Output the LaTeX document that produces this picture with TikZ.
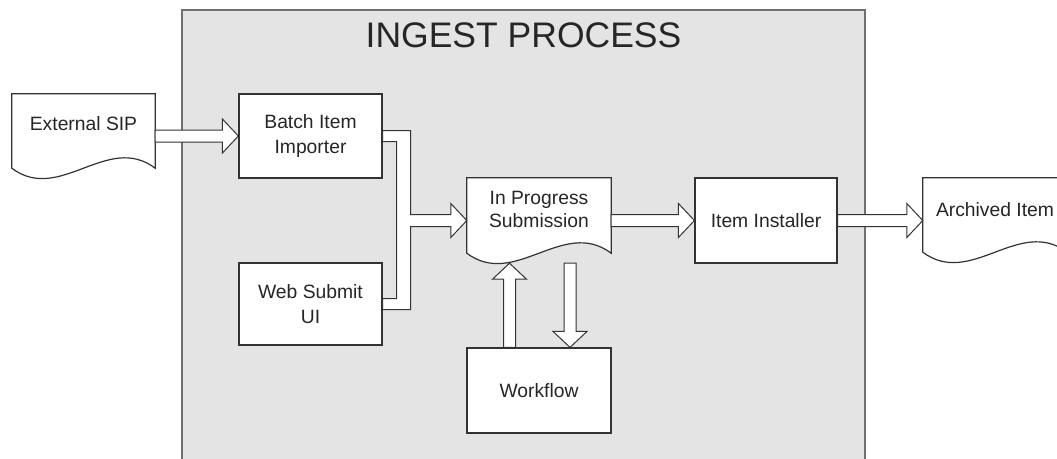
\documentclass[tikz,border=0pt]{standalone}
\usepackage{fontspec}
\setmainfont{Liberation Sans}
\usetikzlibrary{calc,backgrounds}
\definecolor{panel}{HTML}{E4E4E4}
\definecolor{panelline}{HTML}{707070}
\definecolor{ink}{HTML}{333333}
\definecolor{txt}{HTML}{262626}
\tikzset{
  lbl/.style={font=\fontsize{19.3}{25}\selectfont, text=txt, align=center},
  boxnode/.style={lbl, draw=ink, fill=white, line width=1.2pt, rectangle, inner sep=0pt},
  docnode/.style={rectangle, inner sep=0pt, draw=none},
  docline/.style={draw=ink, fill=white, line width=1.2pt},
  blockarr/.style={draw=ink, fill=white, line width=1pt, line join=miter},
}
% document outline around a node
\newcommand\docshape[1]{%
  \path[docline] let \p1=(#1.north west), \p2=(#1.south east) in
    (\x1,\y1) -- (\x2,\y1) -- (\x2,\y2)
    .. controls ({\x1+0.667*(\x2-\x1)},{\y2+36pt}) and ({\x1+0.333*(\x2-\x1)},{\y2-36pt}) .. (\x1,\y2) -- cycle;}
% horizontal hollow block arrow
\newcommand\harrow[2]{%
  \path[blockarr] let \p1=(#1), \p2=(#2), \p3=($(#2)!16pt!(#1)$) in
    (\x1,\y2+6pt) -- (\x3,\y2+6pt) -- (\x3,\y2+17pt) -- (\x2,\y2) -- (\x3,\y2-17pt)
    -- (\x3,\y2-6pt) -- (\x1,\y2-6pt) -- cycle;}
% vertical hollow block arrow
\newcommand\varrow[2]{%
  \path[blockarr] let \p1=(#1), \p2=(#2), \p3=($(#2)!16pt!(#1)$) in
    (\x2+6pt,\y1) -- (\x2+6pt,\y3) -- (\x2+17pt,\y3) -- (\x2,\y2) -- (\x2-17pt,\y3)
    -- (\x2-6pt,\y3) -- (\x2-6pt,\y1) -- cycle;}
\begin{document}
\begin{tikzpicture}[x=1pt,y=-1pt]
\useasboundingbox (0,0) rectangle (1057,458);
\begin{scope}[on background layer]
  \fill[white] (0,0) rectangle (1057,458);
  \draw[fill=panel, draw=panelline, line width=2.5pt] (182,10) rectangle (865,475);
\end{scope}
\node[font=\fontsize{35.5}{40}\selectfont, text=txt] (title) at (523.5,35.5) {INGEST PROCESS};

% document nodes
\node[docnode, minimum width=143, minimum height=74,
  label={[lbl, name=extT, yshift=7pt]center:External SIP}] (ext) at (83.5,131) {};
\node[docnode, minimum width=144, minimum height=75,
  label={[lbl, name=ipT, yshift=6pt, font=\fontsize{19.3}{23}\selectfont]center:In Progress\\Submission}] (inprog) at (539,215.5) {};
\node[docnode, minimum width=144, minimum height=74,
  label={[lbl, name=arT, yshift=5pt]center:Archived Item}] (arch) at (995,215) {};

% box nodes
\node[boxnode, minimum width=143, minimum height=84] (batch) at (310.5,136) {Batch Item\\Importer};
\node[boxnode, minimum width=143, minimum height=82] (web) at (310.5,304) {Web Submit\\UI};
\node[boxnode, minimum width=144, minimum height=85] (wf) at (539,390.5) {Workflow};
\node[boxnode, minimum width=142, minimum height=85] (inst) at (766,220.5) {Item Installer};

\begin{scope}[on background layer]
  \docshape{ext}
  \docshape{inprog}
  \docshape{arch}
\end{scope}

% connectors
\harrow{ext.east |- batch.west}{batch.west}
\harrow{inprog.east |- inst.west}{inst.west}
\harrow{inst.east}{arch.west |- inst.east}

\coordinate (mergeTip) at (inprog.west |- inst.west);
\path[blockarr] let \p1=(batch.east), \p2=(web.east), \p3=(mergeTip) in
  (\x1,\y1+5.5pt) -- (\x1+28pt,\y1+5.5pt) -- (\x1+28pt,\y3+6pt) -- (\x3-16pt,\y3+6pt)
  -- (\x3-16pt,\y3+17pt) -- (\x3,\y3) -- (\x3-16pt,\y3-17pt) -- (\x3-16pt,\y3-6pt)
  -- (\x1+28pt,\y3-6pt) -- (\x1+28pt,\y2-5.5pt) -- (\x2,\y2-5.5pt) -- (\x2,\y2+5.5pt)
  -- (\x1+14pt,\y2+5.5pt) -- (\x1+14pt,\y1-5.5pt) -- (\x1,\y1-5.5pt) -- cycle;

\coordinate (upS) at ($(wf.north)+(-29.5,0)$);
\coordinate (upE) at ($(inprog.south)+(-29.5,10)$);
\varrow{upS}{upE}
\coordinate (dnS) at ($(inprog.south)+(31,10)$);
\coordinate (dnE) at ($(wf.north)+(31,0)$);
\varrow{dnS}{dnE}
\end{tikzpicture}
\end{document}
